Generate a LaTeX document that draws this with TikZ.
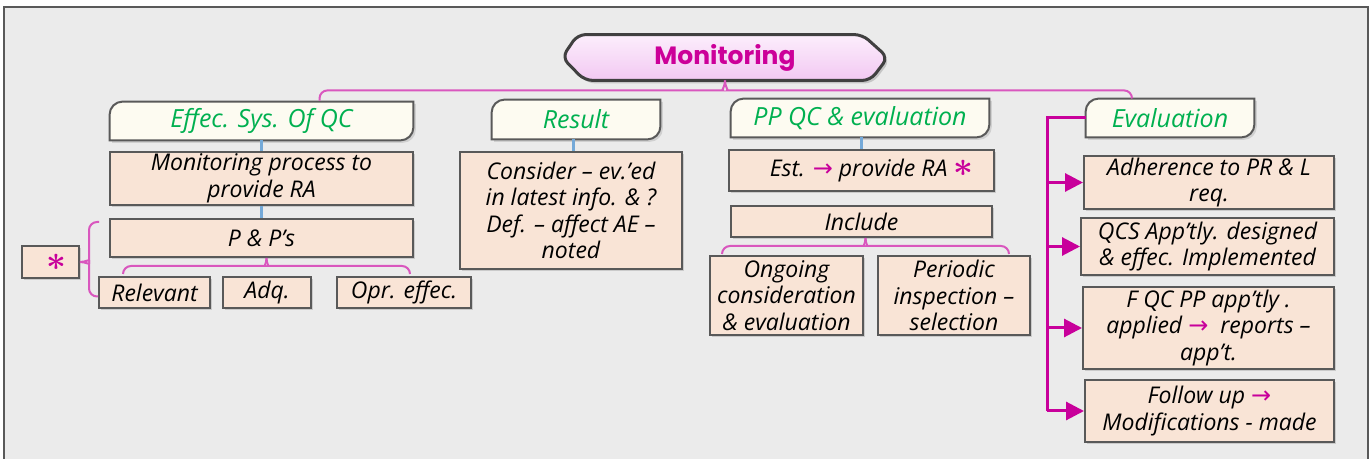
\documentclass[tikz,border=0pt]{standalone}
\usepackage{fontspec}
\setmainfont{Open Sans}
\newfontfamily\titlefont{Poppins}
\newfontfamily\symfont{DejaVu Sans}
\usetikzlibrary{shadows,arrows.meta,calc,backgrounds}
\definecolor{bgc}{HTML}{EBEBEB}
\definecolor{peach}{HTML}{F9E4D6}
\definecolor{cream}{HTML}{FDFBF1}
\definecolor{edge}{HTML}{595959}
\definecolor{grn}{HTML}{00B050}
\definecolor{mag}{HTML}{C8009B}
\definecolor{brc}{HTML}{D957BE}
\definecolor{blu}{HTML}{74A9D8}
\definecolor{ttl}{HTML}{CC0099}
\definecolor{pinkA}{HTML}{FCEEFC}
\definecolor{pinkB}{HTML}{F2C8F2}
\newcommand\bodyfont{\fontsize{11.5}{13.25}\selectfont\itshape}
\newcommand\hdrfont{\fontsize{12.5}{14}\selectfont\itshape}
\newcommand\arr{\textcolor{mag}{\symfont\fontsize{12}{13}\selectfont →}}
\newcommand\bigast[1]{\textcolor{mag}{\fontsize{#1}{#1}\selectfont\boldmath$\ast$}}
\newcommand\tabshape[1]{%
  \draw[tabline] (#1.south west) -- ([yshift=-6.5pt]#1.north west)
    arc[start angle=180,end angle=90,radius=6.5pt] -- (#1.north east)
    -- ([yshift=6.5pt]#1.south east)
    arc[start angle=0,end angle=-90,radius=6.5pt] -- cycle;}
\begin{document}
\begin{tikzpicture}[x=0.5pt,y=-0.5pt,
  wh/.style 2 args={minimum width=#1*0.5pt, minimum height=#2*0.5pt},
  box/.style={rectangle, draw=edge, line width=1pt, fill=peach, inner sep=0pt,
    align=center, font=\bodyfont,
    drop shadow={shadow xshift=1.2pt, shadow yshift=-1.2pt, opacity=0.3}},
  hdr/.style={rectangle, inner sep=0pt, align=center, font=\hdrfont, text=grn},
  tabline/.style={draw=edge, line width=1pt, fill=cream,
    drop shadow={shadow xshift=1.2pt, shadow yshift=-1.2pt, opacity=0.25}},
  ttlnode/.style={rectangle, inner sep=0pt, font=\titlefont\bfseries\fontsize{12.5}{15}\selectfont, text=ttl},
  ttlshape/.style={draw=black!75, line width=1.5pt, top color=pinkA, bottom color=pinkB,
    rounded corners=4pt, drop shadow={shadow xshift=1.2pt, shadow yshift=-1.5pt, opacity=0.35}},
  brace/.style={draw=brc, line width=1pt, rounded corners=4pt},
  bline/.style={draw=blu, line width=1.5pt},
  evl/.style={draw=mag, line width=1.5pt},
  evarrow/.style={draw=mag, fill=mag, line width=1.5pt, -{Triangle[length=9pt,width=9pt]}},
  frm/.style={draw=black!65, line width=1pt}
]
\useasboundingbox (0,0) rectangle (1370,459);
\begin{scope}[on background layer]
  \fill[white] (0,0) rectangle (1370,459);
  \fill[bgc] (4,7) rectangle (1368,459);
  \draw[frm] (4,459) -- (4,7) -- (1368,7) -- (1368,459);
\end{scope}

% title
\node[ttlnode, wh={325}{45}] (title) at (725,57.5) {Monitoring};

% headers
\node[hdr, wh={303}{38}] (h1) at (261.5,121) {Effec. Sys. Of QC};
\node[hdr, wh={168}{39}] (h2) at (576,119.5) {Result};
\node[hdr, wh={258}{38}] (h3) at (860,118) {PP QC \& evaluation};
\node[hdr, wh={168}{38}] (h4) at (1170,118) {Evaluation};

\begin{scope}[on background layer]
  \draw[ttlshape] (title.west) -- ([xshift=7.75pt]title.north west)
    -- ([xshift=-12.75pt]title.north east) -- (title.east)
    -- ([xshift=-8.75pt]title.south east) -- ([xshift=11.25pt]title.south west) -- cycle;
  \tabshape{h1}
  \tabshape{h2}
  \tabshape{h3}
  \tabshape{h4}
\end{scope}

% column 1
\node[box, wh={303}{53}] (mp) at (261.5,178.5) {Monitoring process to\\provide RA};
\node[box, wh={303}{38}] (pp) at (261.5,238) {P \& P’s};
\node[box, wh={111}{31}] (rel) at (154.5,292.5) {Relevant};
\node[box, wh={88}{31}] (adq) at (267,292.5) {Adq.};
\node[box, wh={134}{31}] (opr) at (404,292.5) {Opr. effec.};
\node[box, wh={57}{32}] (star) at (50.5,262) {\hspace{6pt}\bigast{18}};

% column 2
\node[box, wh={222}{117}] (res) at (571,210.5)
  {Consider – ev.’ed\\in latest info. \& ?\\Def. – affect AE –\\noted};

% column 3
\node[box, wh={265}{41}] (est) at (861.5,170.5) {\hspace{10pt}Est. \arr\ provide RA \bigast{17}};
\node[box, wh={261}{31}] (inc) at (861.5,221.5) {Include};
\node[box, wh={153}{79}] (ong) at (786.5,295.5) {Ongoing\\consideration\\\& evaluation};
\node[box, wh={152}{79}] (per) at (954,295.5) {Periodic\\inspection –\\selection};

% column 4
\node[box, wh={250}{53}] (e1) at (1209,182.5) {Adherence to PR \& L\\req.};
\node[box, wh={253}{57}] (e2) at (1207.5,246.5) {QCS App’tly. designed\\\& effec. Implemented};
\node[box, wh={251}{82}] (e3) at (1208.5,328) {F QC PP app’tly .\\applied \arr\ \ reports –\\app’t.};
\node[box, wh={249}{62}] (e4) at (1209.5,411) {Follow up \arr\\Modifications - made};

% braces
\draw[brace] (title.south) .. controls +(0,7) and +(6,0) .. ++(-10,10) -| ([xshift=29pt,yshift=0.5pt]h1.north);
\draw[brace] (title.south) .. controls +(0,7) and +(-6,0) .. ++(10,10) -| ([xshift=-19pt,yshift=0.5pt]h4.north);

\draw[brace] ([xshift=2.5pt]pp.south) .. controls +(0,6) and +(6,0) .. ++(-9,8) -| ([xshift=-15.75pt,yshift=1pt]rel.north);
\draw[brace] ([xshift=2.5pt]pp.south) .. controls +(0,6) and +(-6,0) .. ++(9,8) -| ([xshift=3pt,yshift=1pt]opr.north);

\draw[brace] ([xshift=2pt]inc.south) .. controls +(0,6) and +(6,0) .. ++(-9,8) -| ([xshift=-32.25pt,yshift=0.5pt]ong.north);
\draw[brace] ([xshift=2pt]inc.south) .. controls +(0,6) and +(-6,0) .. ++(9,8) -| ([xshift=27.5pt,yshift=0.5pt]per.north);

\draw[brace] (star.east) .. controls +(6,0) and +(0,6) .. ++(9,-9) |- ([shift={(-5pt,8pt)}]pp.west);
\draw[brace] (star.east) .. controls +(6,0) and +(0,-6) .. ++(9,9) |- ([yshift=-2pt]rel.west);

% blue connectors
\draw[bline] (h1.south) -- (mp.north);
\draw[bline] (mp.south) -- (pp.north);
\draw[bline] ([xshift=-1.5pt]h2.south) -- ([xshift=-1.5pt]h2.south |- res.north);
\draw[bline] ([xshift=0.5pt]h3.south) -- ([xshift=0.5pt]h3.south |- est.north);

% evaluation tree
\coordinate (trk) at ([xshift=-18.5pt]e4.west);
\draw[evl] (h4.west) -| (trk);
\draw[evarrow] (trk) -- (e4.west);
\draw[evarrow] (e1.west -| trk) -- (e1.west);
\draw[evarrow] (e2.west -| trk) -- (e2.west);
\draw[evarrow] (e3.west -| trk) -- (e3.west);
\end{tikzpicture}
\end{document}
